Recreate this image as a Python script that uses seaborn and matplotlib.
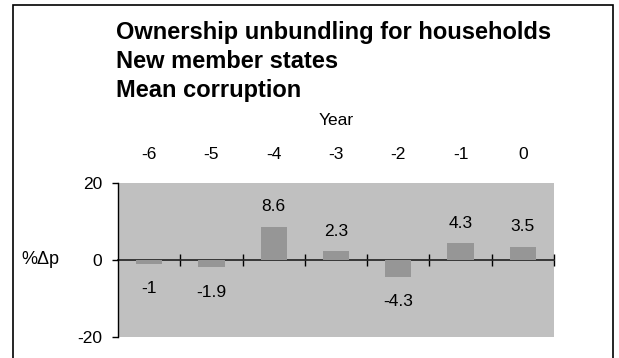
import matplotlib
matplotlib.use("Agg")
import matplotlib.pyplot as plt
import seaborn as sns
import numpy as np
import pandas as pd
from matplotlib.patches import Rectangle

years = ["-6", "-5", "-4", "-3", "-2", "-1", "0"]
pct_change = [-1.0, -1.9, 8.6, 2.3, -4.3, 4.3, 3.5]
title_lines = ["Ownership unbundling for households", "New member states", "Mean corruption"]
y_ticks = [-20, 0, 20]

sns.set_theme(style="white")
plt.rcParams["font.family"] = ["Liberation Sans", "DejaVu Sans"]
plt.rcParams.update({"text.color": "black", "axes.labelcolor": "black",
                     "xtick.color": "black", "ytick.color": "black"})

df = pd.DataFrame({"Year": years, "pct": pct_change})

fig = plt.figure(figsize=(6.19, 3.58), dpi=100)
fig.patch.set_facecolor("white")
ax = fig.add_axes([118 / 619, 1 - 337 / 358, 436 / 619, 154 / 358])
ax.set_facecolor("#C0C0C0")

sns.barplot(data=df, x="Year", y="pct", order=years, color="#969696",
            saturation=1, width=0.42, linewidth=0, edgecolor="none",
            ax=ax, zorder=2)

ax.set_ylim(-20, 20)
ax.set_xlim(-0.5, len(years) - 0.5)
ax.set_yticks(y_ticks)
ax.set_yticklabels([str(v) for v in y_ticks], fontsize=12.5)
ax.tick_params(axis="y", direction="out", length=4.5, width=1, color="black",
               left=True, pad=7)

# Category labels along the top, no tick marks
ax.xaxis.tick_top()
ax.xaxis.set_label_position("top")
ax.tick_params(axis="x", length=0, pad=15, labelsize=12.5)
ax.set_xlabel("Year", fontsize=12.5, labelpad=16)

ax.set_ylabel("%\u0394p", rotation=0, fontsize=13, ha="center", va="center")
ax.yaxis.set_label_coords(-0.178, 0.5)

for side in ["top", "right", "bottom"]:
    ax.spines[side].set_visible(False)
ax.spines["left"].set_color("black")
ax.spines["left"].set_linewidth(1)

# Zero line with category-boundary ticks
zero_axis = ax.secondary_xaxis(0.5)
zero_axis.set_xticks(np.arange(0.5, len(years), 1))
zero_axis.set_xticklabels([])
zero_axis.tick_params(axis="x", direction="out", length=4, width=1,
                      color="black", bottom=True, labelbottom=False,
                      labeltop=False)
zero_axis.spines["bottom"].set_color("black")
zero_axis.spines["bottom"].set_linewidth(1.2)

# Value labels outside the bar ends
for i, v in enumerate(pct_change):
    offset = 14.5 if v >= 0 else -18
    ax.annotate(f"{v:g}", xy=(i, v), xytext=(0, offset),
                textcoords="offset points", ha="center", va="center",
                fontsize=12.5)

for i, line in enumerate(title_lines):
    fig.text(116 / 619, 1 - (32 + 29 * i) / 358, line, fontsize=17,
             fontweight="bold", ha="left", va="center")

fig.patches.append(Rectangle((13 / 619, -0.05), 600 / 619, 1.05 - 5 / 358,
                             transform=fig.transFigure, fill=False,
                             edgecolor="black", linewidth=1.2))

fig.savefig("out.png", dpi=100)
